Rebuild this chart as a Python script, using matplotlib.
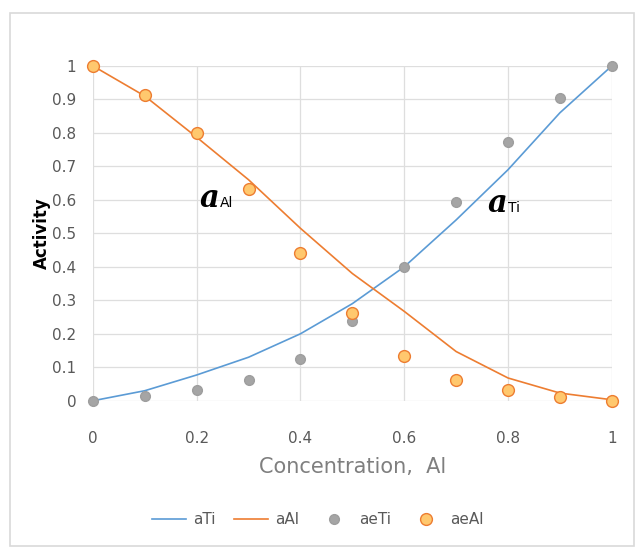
import numpy as np
import matplotlib.pyplot as plt
from matplotlib.patches import Rectangle

# data
conc = [0.0, 0.1, 0.2, 0.3, 0.4, 0.5, 0.6, 0.7, 0.8, 0.9, 1.0]
aTi = [0.0, 0.03, 0.077, 0.13, 0.20, 0.29, 0.40, 0.54, 0.69, 0.86, 1.0]
aAl = [1.0, 0.91, 0.787, 0.66, 0.515, 0.38, 0.267, 0.147, 0.068, 0.023, 0.003]
aeTi = [0.0, 0.013, 0.031, 0.063, 0.125, 0.237, 0.40, 0.593, 0.773, 0.905, 1.0]
aeAl = [1.0, 0.914, 0.80, 0.632, 0.44, 0.262, 0.134, 0.062, 0.032, 0.012, 0.0]

fig = plt.figure(figsize=(6.36, 5.49), dpi=100)
ax = fig.add_axes([0.146, 0.27, 0.816, 0.61])

# outer chart border
fig.patches.append(Rectangle((10 / 636, 3 / 549), 624 / 636, 533 / 549,
                             transform=fig.transFigure, fill=False,
                             edgecolor='#D9D9D9', linewidth=1.2))

ax.plot(conc, aTi, color='#5B9BD5', lw=1.2, label='aTi', zorder=3)
ax.plot(conc, aAl, color='#ED7D31', lw=1.2, label='aAl', zorder=3)
ax.plot(conc, aeTi, ls='none', marker='o', ms=7, mfc='#A5A5A5',
        mec='#9E9E9E', label='aeTi', zorder=4)
ax.plot(conc, aeAl, ls='none', marker='o', ms=8.5, mfc='#FFC86E',
        mec='#ED7D31', mew=1.0, label='aeAl', zorder=5)

ax.set_xlim(0, 1)
ax.set_ylim(0, 1)
ax.set_xticks(np.arange(0, 1.01, 0.2))
ax.set_yticks(np.arange(0, 1.01, 0.1))
ax.set_xticklabels(['0', '0.2', '0.4', '0.6', '0.8', '1'])
ax.set_yticklabels(['0', '0.1', '0.2', '0.3', '0.4', '0.5', '0.6', '0.7', '0.8', '0.9', '1'])
ax.tick_params(length=0, labelsize=11, colors='#595959')
ax.tick_params(axis='x', pad=22)
ax.tick_params(axis='y', pad=12)
ax.grid(True, color='#DEDEDE', lw=0.9)
ax.set_axisbelow(True)
for s in ax.spines.values():
    s.set_visible(False)
for ln in ax.lines:
    ln.set_clip_on(False)

ax.set_xlabel('Concentration,  Al', fontsize=15, color='#7F7F7F', labelpad=8)
ax.set_ylabel('Activity', fontsize=12, fontweight='bold', color='black', labelpad=1)

ax.text(0.205, 0.578, 'a', fontsize=22, fontweight='bold', style='italic',
        family='DejaVu Serif', va='baseline')
ax.text(0.245, 0.578, 'Al', fontsize=10, va='baseline')
ax.text(0.76, 0.565, 'a', fontsize=22, fontweight='bold', style='italic',
        family='DejaVu Serif', va='baseline')
ax.text(0.80, 0.565, 'Ti', fontsize=10, va='baseline')

leg = fig.legend(loc='lower center', bbox_to_anchor=(0.5, 0.015), ncol=4,
                 frameon=False, fontsize=11, handlelength=2.2, columnspacing=1.2,
                 handletextpad=0.5)
for t in leg.get_texts():
    t.set_color('#595959')

fig.savefig('out.png', dpi=100)
